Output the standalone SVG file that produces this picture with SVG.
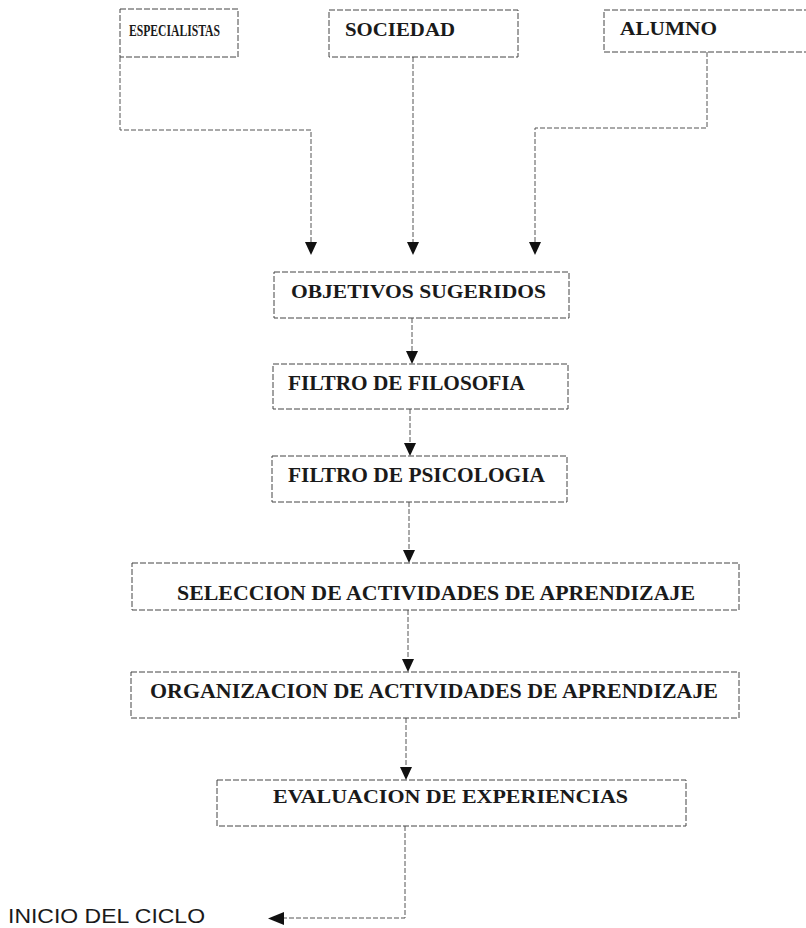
<svg xmlns="http://www.w3.org/2000/svg" width="806" height="928" viewBox="0 0 806 928">
<defs>
<marker id="ah" viewBox="0 0 12 14" refX="6" refY="14" markerWidth="12" markerHeight="14" markerUnits="userSpaceOnUse" orient="auto-start-reverse">
<path d="M0,0 L12,0 L6,14 Z" fill="#111"/>
</marker>
<style>
.box{fill:#fff;stroke:#444;stroke-width:1;stroke-dasharray:6 2}
.t{font-family:"Liberation Serif","Times New Roman",serif;fill:#1a1a1a;font-weight:bold}
.con{fill:none;stroke:#555;stroke-width:1;stroke-dasharray:5 2}
</style>
</defs>
<rect width="806" height="928" fill="#fff"/>
<g id="connectors">
<path class="con" d="M120,57 V130 H311 V242"/>
<path d="M305,242 L317,242 L311,255 Z" fill="#111"/>
<path class="con" d="M413,57 V242"/>
<path d="M407,242 L419,242 L413,255 Z" fill="#111"/>
<path class="con" d="M707,52 V128 H535 V242"/>
<path d="M529,242 L541,242 L535,255 Z" fill="#111"/>
<path class="con" d="M412,318 V351"/>
<path d="M406,351 L418,351 L412,364 Z" fill="#111"/>
<path class="con" d="M410,409 V443"/>
<path d="M404,443 L416,443 L410,456 Z" fill="#111"/>
<path class="con" d="M409,502 V550"/>
<path d="M403,550 L415,550 L409,563 Z" fill="#111"/>
<path class="con" d="M408,610 V659"/>
<path d="M402,659 L414,659 L408,672 Z" fill="#111"/>
<path class="con" d="M406,718 V767"/>
<path d="M400,767 L412,767 L406,780 Z" fill="#111"/>
<path class="con" d="M405,826 V918 H284" stroke-dasharray="2 6"/>
<path d="M284,912 L284,925 L268,918.5 Z" fill="#111"/>
</g>
<g id="especialistas">
<rect class="box" x="120" y="9" width="118" height="48"/>
<text class="t" x="129" y="36" font-size="17" textLength="91" lengthAdjust="spacingAndGlyphs">ESPECIALISTAS</text>
</g>
<g id="sociedad">
<rect class="box" x="329" y="10" width="189" height="47"/>
<text class="t" x="345" y="36" font-size="18" textLength="110" lengthAdjust="spacingAndGlyphs">SOCIEDAD</text>
</g>
<g id="alumno">
<rect class="box" x="604" y="10" width="210" height="42"/>
<text class="t" x="620" y="35" font-size="18" textLength="97" lengthAdjust="spacingAndGlyphs">ALUMNO</text>
</g>
<g id="objetivos">
<rect class="box" x="274" y="272" width="295" height="46"/>
<text class="t" x="291" y="298" font-size="18" textLength="255" lengthAdjust="spacingAndGlyphs">OBJETIVOS SUGERIDOS</text>
</g>
<g id="filosofia">
<rect class="box" x="273" y="364" width="295" height="45"/>
<text class="t" x="288" y="390" font-size="20" textLength="237" lengthAdjust="spacingAndGlyphs">FILTRO DE FILOSOFIA</text>
</g>
<g id="psicologia">
<rect class="box" x="272" y="456" width="295" height="46"/>
<text class="t" x="288" y="482" font-size="20" textLength="257" lengthAdjust="spacingAndGlyphs">FILTRO DE PSICOLOGIA</text>
</g>
<g id="seleccion">
<rect class="box" x="132" y="563" width="607" height="47"/>
<text class="t" x="177" y="600" font-size="20" textLength="518" lengthAdjust="spacingAndGlyphs">SELECCION DE ACTIVIDADES DE APRENDIZAJE</text>
</g>
<g id="organizacion">
<rect class="box" x="131" y="672" width="608" height="46"/>
<text class="t" x="150" y="698" font-size="20" textLength="568" lengthAdjust="spacingAndGlyphs">ORGANIZACION DE ACTIVIDADES DE APRENDIZAJE</text>
</g>
<g id="evaluacion">
<rect class="box" x="217" y="780" width="469" height="46"/>
<text class="t" x="273" y="803" font-size="19" textLength="355" lengthAdjust="spacingAndGlyphs">EVALUACION DE EXPERIENCIAS</text>
</g>
<g id="inicio">
<text x="8" y="923" font-family="'Liberation Sans',Arial,sans-serif" font-size="21" fill="#1a1a1a" textLength="197" lengthAdjust="spacingAndGlyphs">INICIO DEL CICLO</text>
</g>
</svg>
